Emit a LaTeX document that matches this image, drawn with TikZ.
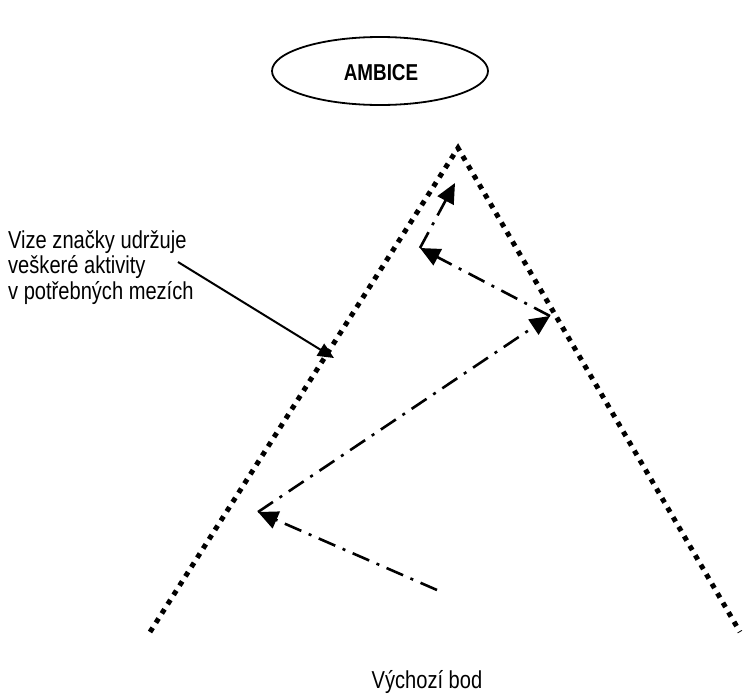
\documentclass[tikz,border=0pt]{standalone}
\usepackage{fontspec}
\setmainfont{Liberation Sans}[FakeStretch=0.82]
\usetikzlibrary{arrows.meta,shapes.geometric}
\begin{document}
\begin{tikzpicture}[x=1pt,y=-1pt,
  dotline/.style={line width=5pt, dash pattern=on 5pt off 6pt},
  dashdotline/.style={line width=2.6pt, dash pattern=on 18pt off 8pt on 3pt off 8pt, -{Triangle[length=20pt,width=18pt]}},
  label/.style={font=\fontsize{24.5}{25.5}\selectfont, align=left, inner sep=0pt}
]
\useasboundingbox (0,0) rectangle (755,697);
% ellipse
\node[draw, line width=1.8pt, ellipse, minimum width=216pt, minimum height=68pt, inner sep=0pt] (amb) at (380,71) {};
\node[font=\fontsize{23}{26}\selectfont\bfseries, inner sep=0pt] (ambt) at (381,73) {AMBICE};
% triangle lines
\coordinate (apex) at (458,148);
\coordinate (lend) at (150,632);
\coordinate (rend) at (740,632);
\draw[dotline] (lend) -- (apex) -- (rend);
% labels
\node[label, anchor=north west] (vize) at (8,230) {Vize značky udržuje\\veškeré aktivity\\v potřebných mezích};
\node[label, anchor=north] (start) at (427,670) {Výchozí bod};
% solid arrow
\coordinate (sa) at (178,262);
\coordinate (sb) at (334,358);
\draw[line width=2pt, -{Triangle[length=16pt,width=14pt]}] (sa) -- (sb);
% dash-dot path
\coordinate (p0) at (437,590);
\coordinate (p1) at (258,512);
\coordinate (p2) at (550,316);
\coordinate (p3) at (420,248);
\coordinate (p4) at (455,183);
\draw[dashdotline] (p0) -- (p1);
\draw[dashdotline] (p1) -- (p2);
\draw[dashdotline] (p2) -- (p3);
\draw[dashdotline] (p3) -- (p4);
\end{tikzpicture}
\end{document}
